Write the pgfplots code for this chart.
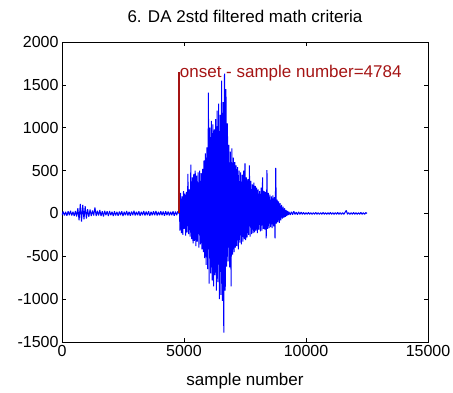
\documentclass[border=0pt]{standalone}
\usepackage{pgfplots}
\pgfplotsset{compat=1.18}
\usepackage{fontspec}
\setmainfont{Liberation Sans}
\definecolor{onsetred}{RGB}{165,20,20}
\begin{document}
\begin{tikzpicture}
\begin{axis}[
  name=ax,
  scale only axis,
  width=366pt, height=300pt,
  xmin=0, xmax=15000, ymin=-1500, ymax=2000,
  xtick={0,5000,10000,15000},
  ytick={-1500,-1000,-500,0,500,1000,1500,2000},
  tick align=inside,
  major tick length=4pt,
  tick style={black, line width=0.6pt},
  axis line style={black, line width=0.8pt},
  scaled ticks=false,
  xticklabel style={/pgf/number format/1000 sep={}},
  yticklabel style={/pgf/number format/1000 sep={}},
  /pgf/number format/assume math mode=true,
  tick label style={font=\fontsize{16}{18}\selectfont},
  title={6. DA 2std filtered math criteria},
  title style={font=\fontsize{17}{20}\selectfont, at={(0.5,1)}, anchor=south, yshift=10pt},
  xlabel={sample number},
  xlabel style={font=\fontsize{17}{20}\selectfont, at={(0.5,0)}, anchor=base, yshift=-43pt},
]
\addplot[blue, line width=1pt, line join=bevel] coordinates {
(0,-20)(50,22)(100,-25)(150,18)(200,-28)(250,25)(300,-20)(350,30)(400,-25)(450,20)
(500,-30)(550,28)(600,-35)(650,60)(700,-80)(750,110)(800,-95)(850,100)(900,-70)(950,85)
(1000,-60)(1050,50)(1100,-40)(1150,45)(1200,-30)(1250,35)(1300,-25)(1350,70)(1400,-30)(1450,30)
(1500,-25)(1550,40)(1600,-30)(1650,25)(1700,-35)(1750,30)(1800,-20)(1850,25)(1900,-30)(1950,28)
(2000,-22)(2050,20)(2100,-30)(2150,25)(2200,-25)(2250,18)(2300,-28)(2350,22)(2400,-20)(2450,25)
(2500,-30)(2550,20)(2600,-22)(2650,28)(2700,-25)(2750,20)(2800,-28)(2850,22)(2900,-20)(2950,30)
(3000,-25)(3050,20)(3100,-22)(3150,25)(3200,-28)(3250,20)(3300,-20)(3350,28)(3400,-25)(3450,22)
(3500,-20)(3550,25)(3600,-28)(3650,20)(3700,-22)(3750,25)(3800,-20)(3850,28)(3900,-25)(3950,20)
(4000,-22)(4050,25)(4100,-20)(4150,22)(4200,-28)(4250,25)(4300,-20)(4350,22)(4400,-25)(4450,20)
(4500,-22)(4550,25)(4600,-28)(4650,22)(4700,-20)(4750,25)(4784,0)
(4800,545)(4830,-200)(4860,240)(4890,-230)(4920,200)(4950,-250)(4980,260)(5010,-180)(5040,230)(5070,-260)
(5100,250)(5130,-220)(5160,460)(5190,-240)(5220,280)(5250,-270)(5280,570)(5310,-300)(5340,420)(5370,-350)
(5400,460)(5430,-320)(5460,500)(5490,-380)(5520,440)(5550,-330)(5580,480)(5610,-400)(5640,500)(5670,-360)
(5700,470)(5730,-420)(5760,520)(5790,-450)(5820,620)(5850,-520)(5880,700)(5910,-600)(5940,770)(5970,-650)
(6000,1410)(6030,-820)(6060,1000)(6090,-700)(6120,1080)(6150,-780)(6180,1040)(6210,-850)(6240,980)(6270,-720)
(6300,1100)(6330,-900)(6360,1200)(6390,-800)(6420,1280)(6450,-1000)(6480,1150)(6510,-950)(6540,1550)(6570,-1020)
(6600,1300)(6630,-1390)(6660,1630)(6690,-900)(6720,1450)(6750,-620)(6780,1050)(6810,-560)(6840,800)(6870,-630)
(6900,720)(6930,-850)(6960,760)(6990,-480)(7020,650)(7050,-450)(7080,600)(7110,-400)(7140,560)(7170,-380)
(7200,540)(7230,-420)(7260,500)(7290,-340)(7320,480)(7350,-360)(7380,450)(7410,-330)(7440,500)(7470,-300)
(7500,585)(7530,-310)(7560,420)(7590,-280)(7620,400)(7650,-250)(7680,560)(7710,-270)(7740,380)(7770,-240)
(7800,340)(7830,-230)(7860,360)(7890,-220)(7920,320)(7950,-200)(7980,300)(8010,-230)(8040,280)(8070,-190)
(8100,260)(8130,-210)(8160,300)(8190,-200)(8220,420)(8250,-180)(8280,260)(8310,-190)(8340,250)(8370,-290)
(8400,505)(8430,-180)(8460,240)(8490,-170)(8520,220)(8550,-160)(8580,200)(8610,-170)(8640,210)(8670,-150)
(8700,190)(8730,-290)(8760,530)(8790,-120)(8820,160)(8850,-100)(8880,140)(8910,-110)(8940,120)(8970,-80)
(9000,100)(9030,-60)(9060,80)(9090,-50)(9120,60)(9150,-40)(9180,40)(9210,-30)(9240,30)(9270,-20)(9300,20)
(9350,-18)(9400,20)(9450,-15)(9500,25)(9550,-12)(9600,15)(9650,-15)(9700,20)(9750,-12)(9800,15)
(9850,-10)(9900,12)(9950,-12)(10000,10)(10050,-10)(10100,12)(10150,-10)(10200,10)(10250,-12)(10300,10)
(10350,-10)(10400,12)(10450,-10)(10500,10)(10550,-12)(10600,10)(10650,-10)(10700,12)(10750,-10)(10800,10)
(10850,-12)(10900,10)(10950,-10)(11000,12)(11050,-10)(11100,10)(11150,-12)(11200,10)(11250,-10)(11300,12)
(11350,-10)(11400,10)(11450,-12)(11500,10)(11550,-10)(11600,12)(11650,35)(11700,-10)(11750,10)(11800,-12)
(11850,10)(11900,-10)(11950,12)(12000,-10)(12050,10)(12100,-12)(12150,10)(12200,-10)(12250,12)(12300,-10)
(12350,10)(12400,-12)(12450,10)(12500,0)
};
\addplot[onsetred, line width=1.6pt] coordinates {(4784,0)(4784,1650)};
\node[anchor=west, inner sep=1pt, text=onsetred, font=\fontsize{17}{20}\selectfont] at (axis cs:4784,1635) {onset - sample number=4784};
\end{axis}
\pgfresetboundingbox
\path[use as bounding box] (ax.south west) ++(-62pt,-50pt) rectangle ++(453pt,392pt);
\end{tikzpicture}
\end{document}
